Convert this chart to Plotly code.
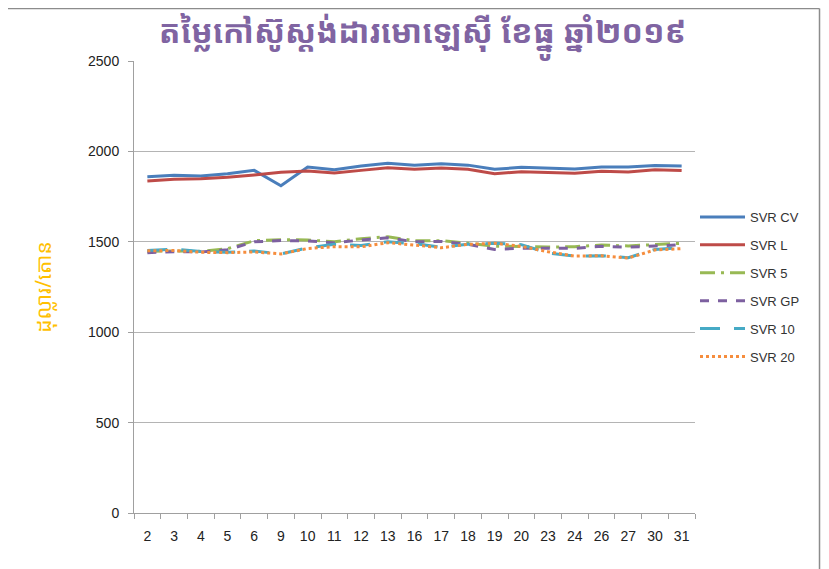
import plotly.graph_objects as go

days = ["2", "3", "4", "5", "6", "9", "10", "11", "12", "13", "16", "17", "18", "19", "20", "23", "24", "26", "27", "30", "31"]
svr_cv = [1860, 1868, 1864, 1877, 1895, 1810, 1914, 1899, 1919, 1934, 1924, 1932, 1924, 1901, 1912, 1906, 1903, 1914, 1914, 1922, 1919]
svr_l = [1836, 1846, 1849, 1857, 1870, 1884, 1892, 1881, 1895, 1910, 1901, 1908, 1901, 1877, 1888, 1882, 1879, 1890, 1886, 1899, 1895]
svr_5 = [1447, 1450, 1447, 1462, 1506, 1512, 1510, 1500, 1517, 1528, 1506, 1506, 1492, 1476, 1474, 1471, 1473, 1482, 1477, 1484, 1492]
svr_gp = [1440, 1445, 1444, 1456, 1500, 1507, 1505, 1494, 1510, 1522, 1500, 1502, 1486, 1458, 1464, 1464, 1464, 1475, 1470, 1477, 1484]
svr_10 = [1452, 1460, 1446, 1442, 1449, 1433, 1467, 1486, 1480, 1500, 1490, 1470, 1486, 1492, 1484, 1438, 1421, 1423, 1412, 1458, 1467]
svr_20 = [1450, 1452, 1442, 1440, 1444, 1433, 1463, 1473, 1472, 1495, 1482, 1467, 1486, 1492, 1475, 1445, 1421, 1423, 1410, 1455, 1462]

title_text = "តម្លៃកៅស៊ូស្តង់ដារមោឡេស៊ី ខែធ្នូ ឆ្នាំ២០១៩"
y_label = "ដុល្លារ/តោន"

series = [
    ("SVR CV", svr_cv, "#4A7EBB", "solid", 3),
    ("SVR L", svr_l, "#BE4B48", "solid", 3),
    ("SVR 5", svr_5, "#98B954", "longdashdot", 3),
    ("SVR GP", svr_gp, "#7D60A0", "dash", 3),
    ("SVR 10", svr_10, "#46AAC5", "20px,14px", 3),
    ("SVR 20", svr_20, "#F68D3D", "dot", 3),
]

fig = go.Figure()
for name, vals, color, dash, w in series:
    fig.add_trace(go.Scatter(x=days, y=vals, name=name, mode="lines", legendgroup=name,
                             line=dict(color=color, dash=dash, width=w)))

khmer_font = "Khmer OS, Noto Sans Khmer, Noto Serif Khmer, Khmer OS System, DejaVu Sans, sans-serif"
latin_font = "Liberation Sans, Arial, sans-serif"

L, T = 126, 53
PW, PH = 561.4, 452

fig.update_layout(
    width=829, height=569,
    margin=dict(l=L, r=829 - L - PW, t=T, b=569 - T - PH),
    paper_bgcolor="white", plot_bgcolor="white",
    title=dict(text="<b>" + title_text + "</b>", x=0.5, xanchor="center", y=0.958, yanchor="middle",
               font=dict(family=khmer_font, size=32, color="#8064A2")),
    legend=dict(x=1.0, xanchor="left", y=0.688, yanchor="top",
                font=dict(family=latin_font, size=13, color="#333333"),
                tracegroupgap=8, itemwidth=45, bgcolor="rgba(0,0,0,0)"),
    xaxis=dict(type="category", range=[-0.5, len(days) - 0.5], tickson="boundaries",
               ticks="outside", ticklen=5,
               tickcolor="#A0A0A0", showline=True, linecolor="#A0A0A0", linewidth=1,
               showgrid=False, ticklabelstandoff=10,
               tickfont=dict(family=latin_font, size=14, color="#222222")),
    yaxis=dict(range=[0, 2500], dtick=500, ticks="outside", ticklen=5, tickcolor="#A0A0A0",
               showline=True, linecolor="#A0A0A0", linewidth=1, showgrid=True,
               gridcolor="#B4B4B4", gridwidth=1, zeroline=False, ticklabelstandoff=6,
               tickfont=dict(family=latin_font, size=14, color="#222222"),
               title=dict(text=y_label, standoff=30,
                          font=dict(family=khmer_font, size=21, color="#FFC000"))),
)

# chart frame (top and right border)
fx = (812 - L) / PW
fy_top = (T + PH - 0.5) / PH
fig.add_shape(type="line", xref="paper", yref="paper", x0=-0.3, x1=fx,
              y0=fy_top, y1=fy_top, line=dict(color="#8C8C8C", width=1.5))
fig.add_shape(type="line", xref="paper", yref="paper", x0=fx, x1=fx,
              y0=fy_top, y1=-0.3, line=dict(color="#8C8C8C", width=1.5))

fig.write_html("out.html")
